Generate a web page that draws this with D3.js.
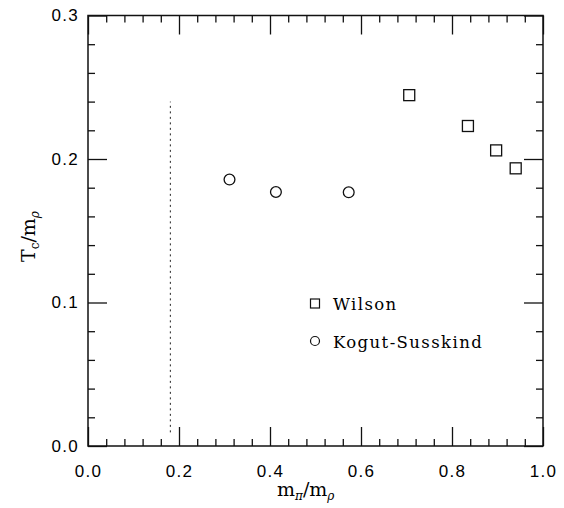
<!DOCTYPE html>
<html><head><meta charset="utf-8">
<script src="https://cdn.jsdelivr.net/npm/d3@7"></script>
<style>
body{margin:0;background:#fff;}
svg{display:block;}
.tick text{font-family:"Liberation Sans",Arial,sans-serif;font-size:17px;letter-spacing:1.3px;fill:#000;}
</style></head>
<body><svg id="c" width="564" height="508"></svg>
<script>
// Data
const wilsonX = [0.706, 0.835, 0.897, 0.940];
const wilsonY = [0.2445, 0.2230, 0.2060, 0.1935];
const ksX = [0.311, 0.413, 0.573];
const ksY = [0.1857, 0.1770, 0.1768];
const dashX = [0.181, 0.181];
const dashY = [0.0095, 0.24];
const xMajor = [0, 0.2, 0.4, 0.6, 0.8, 1.0];
const yMajor = [0, 0.1, 0.2, 0.3];
const legendLabels = ["Wilson", "Kogut-Susskind"];

const svg = d3.select("#c");
const L = 88, R = 543, T = 15.5, B = 446;
const x = d3.scaleLinear().domain([0, 1]).range([L, R]);
const y = d3.scaleLinear().domain([0, 0.3]).range([B, T]);

const xMinor = d3.range(0, 1.0001, 0.04).filter(v => !xMajor.some(m => Math.abs(m - v) < 1e-6));
const yMinor = d3.range(0, 0.3001, 0.02).filter(v => !yMajor.some(m => Math.abs(m - v) < 1e-6));

function styleAx(g){ g.select(".domain").remove(); g.selectAll("line").attr("stroke","#111").attr("stroke-width",1.3); }

// bottom
svg.append("g").attr("transform",`translate(0,${B})`)
  .call(d3.axisBottom(x).tickValues(xMajor).tickSize(-19).tickPadding(19).tickFormat(d3.format(".1f"))).call(styleAx);
svg.append("g").attr("transform",`translate(0,${B})`)
  .call(d3.axisBottom(x).tickValues(xMinor).tickSize(-7).tickFormat("")).call(styleAx);
// top
svg.append("g").attr("transform",`translate(0,${T})`)
  .call(d3.axisTop(x).tickValues(xMajor).tickSize(-19).tickFormat("")).call(styleAx);
svg.append("g").attr("transform",`translate(0,${T})`)
  .call(d3.axisTop(x).tickValues(xMinor).tickSize(-7).tickFormat("")).call(styleAx);
// left
svg.append("g").attr("transform",`translate(${L},0)`)
  .call(d3.axisLeft(y).tickValues(yMajor).tickSize(-19).tickPadding(9).tickFormat(d3.format(".1f"))).call(styleAx);
svg.append("g").attr("transform",`translate(${L},0)`)
  .call(d3.axisLeft(y).tickValues(yMinor).tickSize(-7).tickFormat("")).call(styleAx);
// right
svg.append("g").attr("transform",`translate(${R},0)`)
  .call(d3.axisRight(y).tickValues(yMajor).tickSize(-19).tickFormat("")).call(styleAx);
svg.append("g").attr("transform",`translate(${R},0)`)
  .call(d3.axisRight(y).tickValues(yMinor).tickSize(-7).tickFormat("")).call(styleAx);

// frame
svg.append("rect").attr("x",L).attr("y",T).attr("width",R-L).attr("height",B-T)
  .attr("fill","none").attr("stroke","#111").attr("stroke-width",1.5);

// dashed line
svg.append("line").attr("x1",x(dashX[0])).attr("x2",x(dashX[1])).attr("y1",y(dashY[0])).attr("y2",y(dashY[1]))
  .attr("stroke","#222").attr("stroke-width",1).attr("stroke-dasharray","2,3.5");

const sq = 11, cr = 5.4;
svg.append("g").selectAll("rect").data(wilsonX.map((v,i)=>[v,wilsonY[i]])).join("rect")
  .attr("x",d=>x(d[0])-sq/2).attr("y",d=>y(d[1])-sq/2).attr("width",sq).attr("height",sq)
  .attr("fill","none").attr("stroke","#111").attr("stroke-width",1.3);
svg.append("g").selectAll("circle").data(ksX.map((v,i)=>[v,ksY[i]])).join("circle")
  .attr("cx",d=>x(d[0])).attr("cy",d=>y(d[1])).attr("r",cr)
  .attr("fill","none").attr("stroke","#111").attr("stroke-width",1.3);

// legend
const lf = `"DejaVu Serif","Liberation Serif",serif`;
svg.append("rect").attr("x",315-4.5).attr("y",303.5-4.5).attr("width",9).attr("height",9)
  .attr("fill","none").attr("stroke","#111").attr("stroke-width",1.2);
svg.append("circle").attr("cx",315).attr("cy",341).attr("r",4.5)
  .attr("fill","none").attr("stroke","#111").attr("stroke-width",1.2);
svg.append("text").attr("x",333).attr("y",310).text(legendLabels[0])
  .attr("font-family",lf).attr("font-size",16.5).attr("letter-spacing",1.4).attr("fill","#000");
svg.append("text").attr("x",333).attr("y",348).text(legendLabels[1])
  .attr("font-family",lf).attr("font-size",16.5).attr("letter-spacing",1.4).attr("fill","#000");

// axis titles
const xt = svg.append("text").attr("x",277).attr("y",496).attr("font-family",lf).attr("font-size",19).attr("fill","#000");
xt.append("tspan").text("m");
xt.append("tspan").attr("dy",4).attr("font-size",12).attr("font-style","italic").text("π");
xt.append("tspan").attr("dy",-4).text("/m");
xt.append("tspan").attr("dy",4).attr("font-size",12).attr("font-style","italic").text("ρ");

const yt = svg.append("text").attr("transform","translate(35,262) rotate(-90)").attr("font-family",lf).attr("font-size",19).attr("fill","#000");
yt.append("tspan").text("T");
yt.append("tspan").attr("dy",4).attr("font-size",12).text("c");
yt.append("tspan").attr("dy",-4).text("/m");
yt.append("tspan").attr("dy",4).attr("font-size",12).attr("font-style","italic").text("ρ");
</script></body></html>
